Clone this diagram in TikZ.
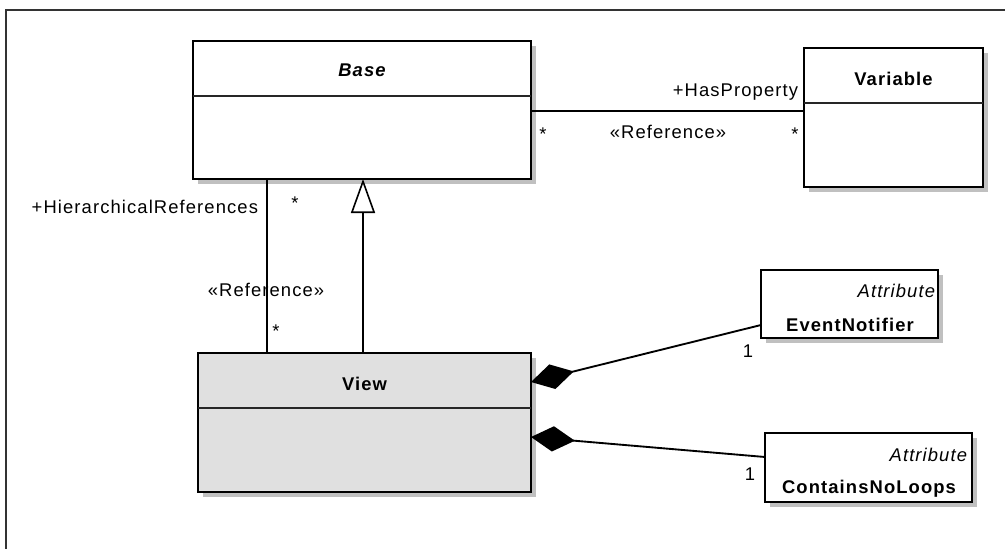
\documentclass[tikz,border=0pt]{standalone}
\usepackage{fontspec}
\setmainfont{Liberation Sans}
\newfontfamily\umlfont[LetterSpace=6]{Liberation Sans}
\usetikzlibrary{arrows.meta,shadows,calc}
\definecolor{viewfill}{HTML}{E0E0E0}
\definecolor{shadowgray}{HTML}{C0C0C0}
\tikzset{
  every node/.style={inner sep=0pt, outer sep=0pt},
  cls/.style={draw=black, line width=1.4pt, rectangle, fill=white,
    drop shadow={shadow xshift=3.5pt, shadow yshift=-3.5pt, fill=shadowgray, opacity=1}},
  lbl/.style={font=\umlfont\fontsize{13.8}{16}\selectfont},
  ttl/.style={font=\umlfont\fontsize{13.8}{16}\selectfont\bfseries},
  stereo/.style={font=\umlfont\fontsize{13.8}{16}\selectfont\itshape},
  conn/.style={line width=1.4pt, draw=black},
  divider/.style={line width=1.2pt, draw=black!85},
  gen/.style={conn, -{Triangle[open, fill=white, length=25.5pt, width=18pt, line width=1.2pt]}},
  comp/.style={conn, -{Diamond[length=33pt, width=19pt]}},
  frameline/.style={line width=1.5pt, draw=black!80}
}
\begin{document}
\begin{tikzpicture}[x=0.75pt, y=-0.75pt]
\useasboundingbox (0,0) rectangle (1005,549);
% frame
\coordinate (fr1) at (1005,10);
\coordinate (fr2) at (6,10);
\coordinate (fr3) at (6,549);
\draw[frameline] (fr1) -- (fr2) -- (fr3);

% classes
\node[cls, minimum width=253.5pt, minimum height=103.5pt] (base) at (362,110) {};
\draw[divider] ([yshift=-41.25pt]base.north west) -- ([yshift=-41.25pt]base.north east);
\node[ttl, font=\umlfont\fontsize{13.8}{16}\selectfont\bfseries\itshape] (baseT) at (362,70) {Base};

\node[cls, minimum width=134.25pt, minimum height=104.25pt] (var) at (893.5,117.5) {};
\draw[divider] ([yshift=-41.25pt]var.north west) -- ([yshift=-41.25pt]var.north east);
\node[ttl] (varT) at (893.5,79) {Variable};

\node[cls, fill=viewfill, minimum width=249.75pt, minimum height=104.25pt] (view) at (364.5,422.5) {};
\draw[divider] ([yshift=-41.25pt]view.north west) -- ([yshift=-41.25pt]view.north east);
\node[ttl] (viewT) at (364.5,384) {View};

\node[cls, minimum width=132.75pt, minimum height=51pt] (en) at (849.5,304) {};
\node[stereo, anchor=east] (enS) at (935,291) {Attribute};
\node[ttl] (enT) at (850,325) {EventNotifier};

\node[cls, minimum width=155.25pt, minimum height=51.75pt] (cnl) at (868.5,467.5) {};
\node[stereo, anchor=east] (cnlS) at (967,455) {Attribute};
\node[ttl] (cnlT) at (869,489) {ContainsNoLoops};

% connectors
\draw[conn] ([yshift=-52.5pt]base.north east) -- ([yshift=-47.25pt]var.north west);
\draw[conn] ([xshift=55.5pt]base.south west) -- ([xshift=51.75pt]view.north west);
\draw[gen] ([xshift=123.75pt]view.north west) -- ([xshift=127.5pt]base.south west);
\draw[comp] ([yshift=9.75pt]en.south west) -- ([yshift=-21.75pt]view.north east);
\draw[comp] ([yshift=-18pt]cnl.north west) -- ([yshift=-63pt]view.north east);

% labels
\node[lbl, anchor=east] (hp) at (798,92) {+HasProperty};
\node[lbl] (ref1) at (668,132) {«Reference»};
\node[lbl] (m1) at (543,134) {*};
\node[lbl] (m2) at (795,134) {*};
\node[lbl, anchor=east] (hr) at (258,207) {+HierarchicalReferences};
\node[lbl] (m3) at (295,203) {*};
\node[lbl] (ref2) at (266,290) {«Reference»};
\node[lbl] (m4) at (276,331) {*};
\node[lbl] (one1) at (748,351) {1};
\node[lbl] (one2) at (750,474) {1};
\end{tikzpicture}
\end{document}
